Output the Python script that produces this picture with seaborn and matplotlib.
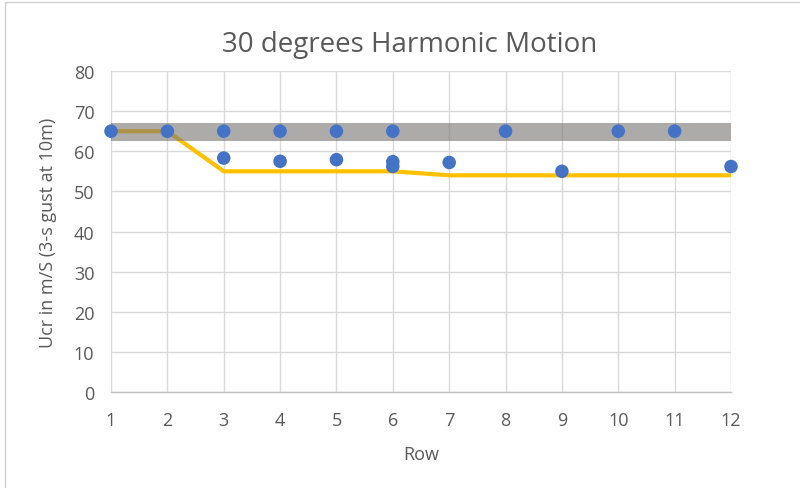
import matplotlib
matplotlib.use("Agg")
import matplotlib.pyplot as plt
from matplotlib.patches import Rectangle
import numpy as np
import pandas as pd
import seaborn as sns

# Critical velocity data per row
rows = list(range(1, 13))
trend_ucr = [65, 65, 55, 55, 55, 55, 54, 54, 54, 54, 54, 54]
band_low = [62.5] * 12
band_high = [67] * 12

obs_rows = [1, 2, 3, 3, 4, 4, 5, 5, 6, 6, 6, 7, 8, 9, 10, 11, 12]
obs_ucr = [65, 65, 65, 58.3, 65, 57.5, 65, 57.9, 65, 57.4, 56.2, 57.2, 65, 55, 65, 65, 56.2]

title = "30 degrees Harmonic Motion"
xlabel = "Row"
ylabel = "Ucr in m/S (3-s gust at 10m)"
yticks = list(range(0, 81, 10))

sns.set_theme(style="white")
plt.rcParams["font.family"] = ["Open Sans", "DejaVu Sans"]

text_color = "#595959"
grid_color = "#d9d9d9"

fig = plt.figure(figsize=(8.0, 4.89), dpi=100)
fig.patch.set_facecolor("white")
fig.patches.append(Rectangle((5 / 800, -0.1), 1.2, 1.094, transform=fig.transFigure,
                             fill=False, edgecolor="#d0d0d0", linewidth=1.0))

ax = fig.add_axes([111 / 800, 96 / 489, 620 / 800, 321 / 489])

trend_df = pd.DataFrame({"Row": rows, "Ucr": trend_ucr})
obs_df = pd.DataFrame({"Row": obs_rows, "Ucr": obs_ucr})

sns.lineplot(data=trend_df, x="Row", y="Ucr", ax=ax, color="#FFC000", linewidth=3.0, zorder=3)
ax.fill_between(rows, band_low, band_high, color="#7a7876", alpha=0.62, linewidth=0, zorder=4)
sns.scatterplot(data=obs_df, x="Row", y="Ucr", ax=ax, color="#4472C4", s=95,
                edgecolor="none", zorder=5, clip_on=False)

ax.set_xlim(1, 12)
ax.set_ylim(0, 80)
ax.set_xticks(rows)
ax.set_yticks(yticks)
ax.grid(True, color=grid_color, linewidth=1.0)
ax.set_axisbelow(True)
for side in ["top", "right", "left"]:
    ax.spines[side].set_visible(False)
ax.spines["bottom"].set_color("#bfbfbf")
ax.spines["bottom"].set_linewidth(1.0)
ax.tick_params(axis="both", length=0, labelsize=13, colors=text_color)
ax.tick_params(axis="x", pad=14)
ax.tick_params(axis="y", pad=12)

ax.set_xlabel(xlabel, fontsize=13, color=text_color, labelpad=11)
ax.set_ylabel(ylabel, fontsize=13, color=text_color, labelpad=12)
fig.text(0.5125, 1 - 45 / 489, title, ha="center", va="center", fontsize=20, color=text_color)

fig.savefig("out.png", dpi=100)
